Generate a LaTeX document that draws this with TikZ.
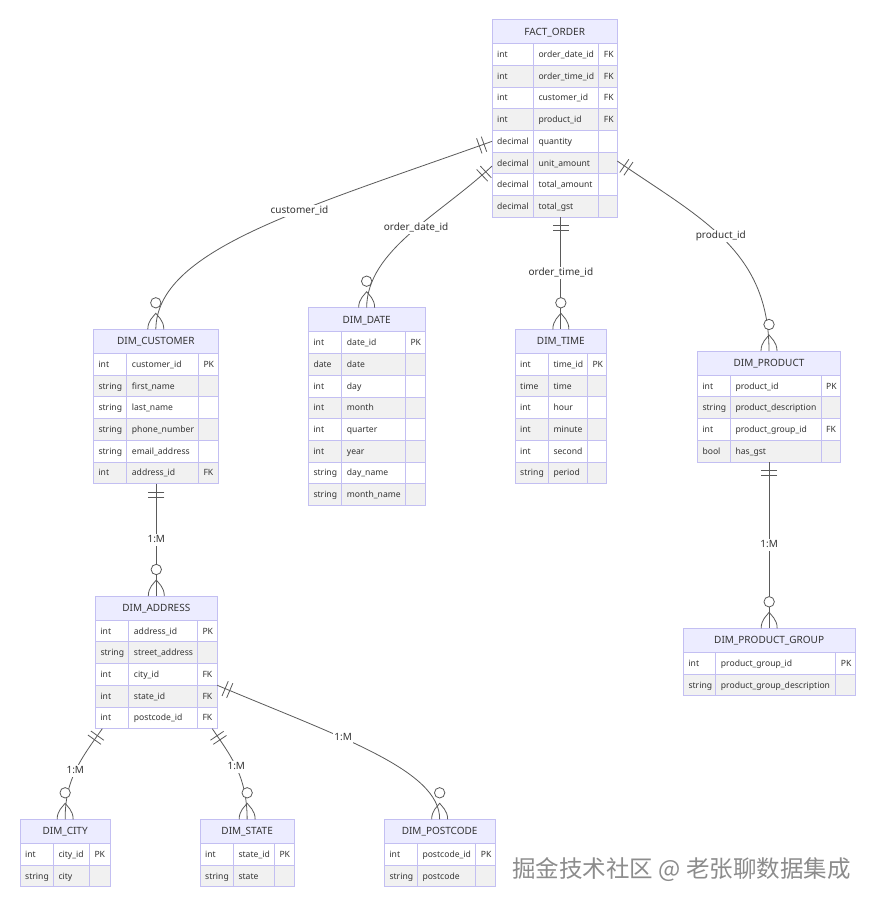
\documentclass[tikz,border=0pt]{standalone}
\usepackage{fontspec}
\setmainfont{Noto Sans}
\newfontfamily\cjk{Noto Sans CJK SC}
\usetikzlibrary{calc}

\definecolor{hdrfill}{HTML}{ECECFF}
\definecolor{bordercol}{HTML}{C3BFF2}
\definecolor{rowgrey}{HTML}{F1F1F1}
\definecolor{txt}{HTML}{333333}
\definecolor{linecol}{HTML}{5A5A5A}
\definecolor{markgrey}{HTML}{8C8C8C}

% table: name, x, y, widths of the three columns, title, rows
\newcommand{\ertable}[8]{%
	\pgfmathsetmacro\tabw{#4+#5+#6}
	\node [hdr, minimum width=\tabw pt, anchor=north west] (#1) at (#2,#3) {#7};
	\foreach \atype/\aname/\akey [count=\i] in {#8} {
		\pgfmathsetmacro\rowy{#3+\hh+(\i-1)*\rh}
		\ifodd\i\relax \def\rowfill{white}\else \def\rowfill{rowgrey}\fi
		\filldraw [cellbox, fill=\rowfill] (#2,\rowy) rectangle ++(#4,\rh);
		\filldraw [cellbox, fill=\rowfill] (#2+#4,\rowy) rectangle ++(#5,\rh);
		\filldraw [cellbox, fill=\rowfill] (#2+#4+#5,\rowy) rectangle ++(#6,\rh);
		\node [rowbox, minimum width=\tabw pt, anchor=north west] (#1-\i) at (#2,\rowy) {};
		\node [attr] at (#2+5,\rowy+\rh/2+3) {\atype};
		\node [attr] at (#2+#4+5,\rowy+\rh/2+3) {\aname};
		\node [attr] at (#2+#4+#5+5,\rowy+\rh/2+3) {\akey};
	}
}

% two bars near the start of a connector
\newcommand{\oneonly}[2]{%
	\path ($(#1)!8.5pt!(#2)$) coordinate (m1) ($(#1)!13.5pt!(#2)$) coordinate (m2);
	\draw [conn] ($(m1)!8pt!90:(#2)$) -- ($(m1)!8pt!-90:(#2)$)
		($(m2)!8pt!90:(#2)$) -- ($(m2)!8pt!-90:(#2)$);
}

% circle and crow's foot on top of a table
\newcommand{\zeromany}[1]{%
	\draw [conn, fill=white] ($(#1)+(0,-26.5)$) circle [radius=5.2];
	\draw [conn] ($(#1)+(-8,0)$) .. controls ($(#1)+(-8,-9)$) and ($(#1)+(-2,-13)$) .. ($(#1)+(0,-16)$)
		.. controls ($(#1)+(2,-13)$) and ($(#1)+(8,-9)$) .. ($(#1)+(8,0)$);
}

\begin{document}
\begin{tikzpicture}[x=1pt, y=-1pt,
		hdr/.style={draw=bordercol, fill=hdrfill, line width=0.9pt, minimum height=\hh pt, inner sep=0pt, outer sep=0pt, text=txt, font=\fontsize{10}{12}\selectfont, text height=7pt, text depth=0pt},
		cellbox/.style={draw=bordercol, line width=0.9pt},
		rowbox/.style={minimum height=\rh pt, inner sep=0pt, outer sep=0pt},
		attr/.style={anchor=base west, inner sep=0pt, text=txt, font=\fontsize{8.6}{10}\selectfont},
		conn/.style={draw=linecol, line width=0.8pt},
		lbl/.style={fill=white, inner sep=1.5pt, text=txt, font=\fontsize{10}{12}\selectfont, text height=7pt, text depth=2pt}]
	\def\hh{24.2}
	\def\rh{21.7}
	
	\path [use as bounding box, fill=white] (0,0) rectangle (875,907);
	
	\ertable{fact}{492}{19.5}{41.3}{65.4}{18.6}{FACT\_ORDER}{int/order\_date\_id/FK, int/order\_time\_id/FK, int/customer\_id/FK, int/product\_id/FK, decimal/quantity/, decimal/unit\_amount/, decimal/total\_amount/, decimal/total\_gst/}
	
	\ertable{cust}{93.3}{329.3}{33.4}{71.6}{20}{DIM\_CUSTOMER}{int/customer\_id/PK, string/first\_name/, string/last\_name/, string/phone\_number/, string/email\_address/, int/address\_id/FK}
	
	\ertable{date}{308.3}{307.7}{33.4}{63.6}{19.7}{DIM\_DATE}{int/date\_id/PK, date/date/, int/day/, int/month/, int/quarter/, int/year/, string/day\_name/, string/month\_name/}
	
	\ertable{time}{515}{329.3}{33.3}{39}{19.4}{DIM\_TIME}{int/time\_id/PK, time/time/, int/hour/, int/minute/, int/second/, string/period/}
	
	\ertable{prod}{697.3}{351}{33}{90.7}{19.7}{DIM\_PRODUCT}{int/product\_id/PK, string/product\_description/, int/product\_group\_id/FK, bool/has\_gst/}
	
	\ertable{group}{683.3}{628.3}{32.4}{120}{19.3}{DIM\_PRODUCT\_GROUP}{int/product\_group\_id/PK, string/product\_group\_description/}
	
	\ertable{addr}{95.3}{596}{33.4}{68.6}{20}{DIM\_ADDRESS}{int/address\_id/PK, string/street\_address/, int/city\_id/FK, int/state\_id/FK, int/postcode\_id/FK}
	
	\ertable{city}{20}{819.3}{33.3}{36}{21}{DIM\_CITY}{int/city\_id/PK, string/city/}
	
	\ertable{state}{200}{819.3}{33.3}{41}{20}{DIM\_STATE}{int/state\_id/PK, string/state/}
	
	\ertable{post}{384.3}{819.3}{33}{58.4}{19.3}{DIM\_POSTCODE}{int/postcode\_id/PK, string/postcode/}
	
	\coordinate (fact-cust) at (fact-5.west);
	\coordinate (fact-date) at ([yshift=-3pt]fact-6.west);
	\coordinate (fact-time) at (time.north |- fact-8.south);
	\coordinate (fact-prod) at ([yshift=2pt]fact-6.east);
	\coordinate (cust-addr) at (addr.north |- cust-6.south);
	\coordinate (prod-grp) at (group.north |- prod-4.south);
	\coordinate (addr-city) at ([xshift=7pt]addr-5.south west);
	\coordinate (addr-state) at ([xshift=-5pt]addr-5.south east);
	\coordinate (addr-post) at (addr-4.north east);
	
	\draw [conn] (fact-cust) .. controls (300,210) and (157,250) .. (cust.north) node [lbl, pos=0.38] {customer\_id};
	\draw [conn] (fact-date) .. controls (440,215) and (367,250) .. (date.north) node [lbl, pos=0.46] {order\_date\_id};
	\draw [conn] (fact-time) -- (time.north) node [lbl, midway] {order\_time\_id};
	\draw [conn] (fact-prod) .. controls (700,218) and (769,250) .. (prod.north) node [lbl, pos=0.48] {product\_id};
	\draw [conn] (cust-addr) -- (addr.north) node [lbl, midway] {1:M};
	\draw [conn] (prod-grp) -- (group.north) node [lbl, midway] {1:M};
	\draw [conn] (addr-city) .. controls (80,760) and (65,780) .. (city.north) node [lbl, midway] {1:M};
	\draw [conn] (addr-state) .. controls (230,755) and (247,775) .. (state.north) node [lbl, midway] {1:M};
	\draw [conn] (addr-post) .. controls (340,737) and (440,770) .. (post.north) node [lbl, pos=0.38] {1:M};
	
	\oneonly{fact-cust}{300,210}
	\oneonly{fact-date}{440,215}
	\oneonly{fact-time}{time.north}
	\oneonly{fact-prod}{700,218}
	\oneonly{cust-addr}{addr.north}
	\oneonly{prod-grp}{group.north}
	\oneonly{addr-city}{80,760}
	\oneonly{addr-state}{230,755}
	\oneonly{addr-post}{340,737}
	
	\zeromany{cust.north}
	\zeromany{date.north}
	\zeromany{time.north}
	\zeromany{prod.north}
	\zeromany{addr.north}
	\zeromany{group.north}
	\zeromany{city.north}
	\zeromany{state.north}
	\zeromany{post.north}
	
	\node [text=markgrey, font=\cjk\fontsize{23.5}{26}\selectfont] (mark) at (681.5,870) {掘金技术社区 @ 老张聊数据集成};
\end{tikzpicture}
\end{document}
